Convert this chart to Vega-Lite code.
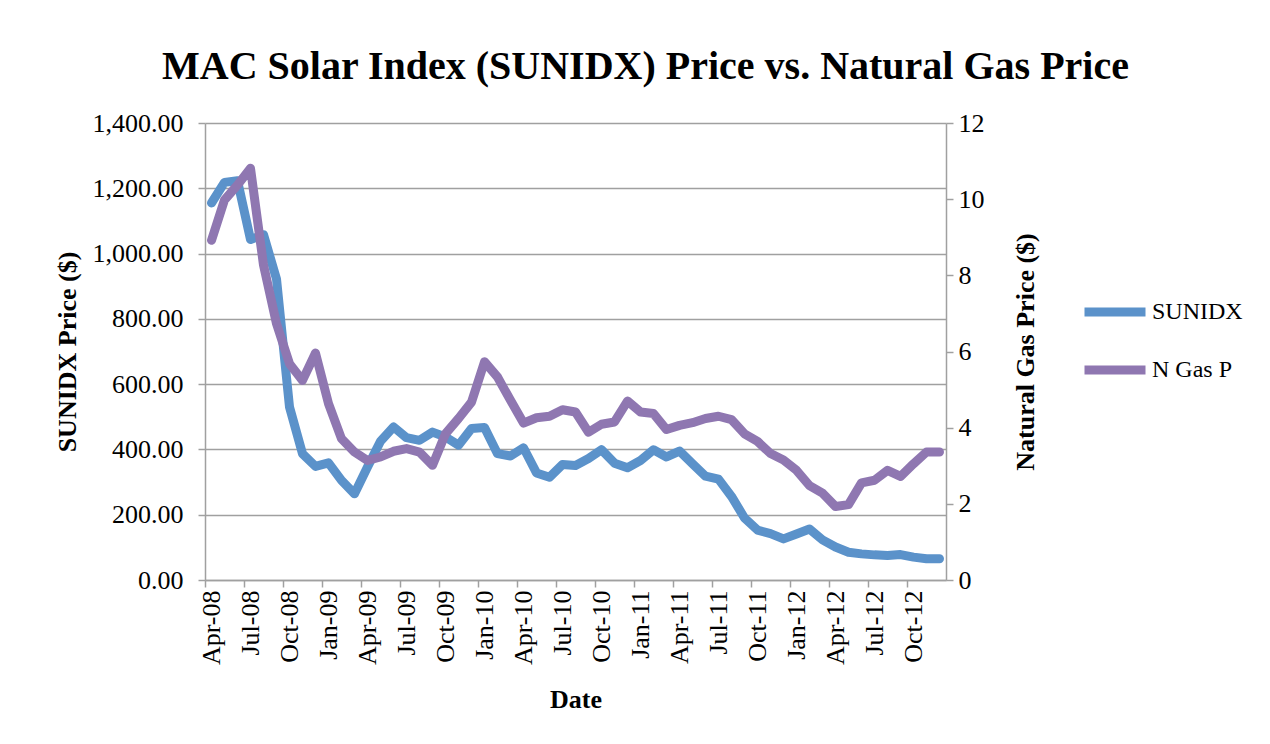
{
  "$schema": "https://vega.github.io/schema/vega-lite/v6.json",
  "width": 741,
  "height": 457,
  "autosize": {"type": "none"},
  "padding": {"left": 205, "top": 123, "right": 324, "bottom": 164},
  "background": "white",
  "title": {
    "text": "MAC Solar Index (SUNIDX) Price vs. Natural Gas Price",
    "font": "Liberation Serif",
    "fontSize": 40,
    "fontWeight": "bold",
    "color": "black",
    "anchor": "middle",
    "frame": "group",
    "dx": 70,
    "dy": 52,
    "offset": 43,
    "baseline": "alphabetic"
  },
  "config": {
    "view": {"stroke": null},
    "axis": {
      "labelFont": "Liberation Serif",
      "labelFontSize": 26,
      "labelColor": "black",
      "titleFont": "Liberation Serif",
      "titleFontSize": 26,
      "titleFontWeight": "bold",
      "titleColor": "black",
      "domainColor": "#a0a0a0",
      "domainWidth": 1.5,
      "tickColor": "#a0a0a0",
      "tickWidth": 1.5,
      "gridColor": "#a0a0a0",
      "gridWidth": 1.5
    }
  },
  "data": {
    "values": [
      {"date": "Apr-08", "sunidx": 1155, "gas": 8.92},
      {"date": "May-08", "sunidx": 1218, "gas": 9.98},
      {"date": "Jun-08", "sunidx": 1223, "gas": 10.37},
      {"date": "Jul-08", "sunidx": 1043, "gas": 10.81},
      {"date": "Aug-08", "sunidx": 1058, "gas": 8.27},
      {"date": "Sep-08", "sunidx": 922, "gas": 6.73},
      {"date": "Oct-08", "sunidx": 530, "gas": 5.68},
      {"date": "Nov-08", "sunidx": 387, "gas": 5.24},
      {"date": "Dec-08", "sunidx": 348, "gas": 5.96},
      {"date": "Jan-09", "sunidx": 359, "gas": 4.63},
      {"date": "Feb-09", "sunidx": 305, "gas": 3.71},
      {"date": "Mar-09", "sunidx": 264, "gas": 3.36},
      {"date": "Apr-09", "sunidx": 346, "gas": 3.14},
      {"date": "May-09", "sunidx": 425, "gas": 3.23},
      {"date": "Jun-09", "sunidx": 469, "gas": 3.38},
      {"date": "Jul-09", "sunidx": 436, "gas": 3.45},
      {"date": "Aug-09", "sunidx": 428, "gas": 3.36},
      {"date": "Sep-09", "sunidx": 453, "gas": 3.01},
      {"date": "Oct-09", "sunidx": 438, "gas": 3.84},
      {"date": "Nov-09", "sunidx": 413, "gas": 4.24},
      {"date": "Dec-09", "sunidx": 464, "gas": 4.67},
      {"date": "Jan-10", "sunidx": 467, "gas": 5.73},
      {"date": "Feb-10", "sunidx": 387, "gas": 5.33},
      {"date": "Mar-10", "sunidx": 380, "gas": 4.72},
      {"date": "Apr-10", "sunidx": 405, "gas": 4.12},
      {"date": "May-10", "sunidx": 328, "gas": 4.26},
      {"date": "Jun-10", "sunidx": 315, "gas": 4.30},
      {"date": "Jul-10", "sunidx": 354, "gas": 4.47},
      {"date": "Aug-10", "sunidx": 351, "gas": 4.41},
      {"date": "Sep-10", "sunidx": 372, "gas": 3.88},
      {"date": "Oct-10", "sunidx": 399, "gas": 4.09},
      {"date": "Nov-10", "sunidx": 358, "gas": 4.15},
      {"date": "Dec-10", "sunidx": 344, "gas": 4.70},
      {"date": "Jan-11", "sunidx": 366, "gas": 4.41},
      {"date": "Feb-11", "sunidx": 399, "gas": 4.37},
      {"date": "Mar-11", "sunidx": 377, "gas": 3.95},
      {"date": "Apr-11", "sunidx": 395, "gas": 4.06},
      {"date": "May-11", "sunidx": 356, "gas": 4.13},
      {"date": "Jun-11", "sunidx": 318, "gas": 4.24},
      {"date": "Jul-11", "sunidx": 309, "gas": 4.30},
      {"date": "Aug-11", "sunidx": 256, "gas": 4.21},
      {"date": "Sep-11", "sunidx": 190, "gas": 3.84},
      {"date": "Oct-11", "sunidx": 153, "gas": 3.64},
      {"date": "Nov-11", "sunidx": 142, "gas": 3.32},
      {"date": "Dec-11", "sunidx": 126, "gas": 3.15},
      {"date": "Jan-12", "sunidx": 141, "gas": 2.88},
      {"date": "Feb-12", "sunidx": 156, "gas": 2.48},
      {"date": "Mar-12", "sunidx": 123, "gas": 2.28},
      {"date": "Apr-12", "sunidx": 101, "gas": 1.93},
      {"date": "May-12", "sunidx": 85, "gas": 1.98},
      {"date": "Jun-12", "sunidx": 80, "gas": 2.55},
      {"date": "Jul-12", "sunidx": 77, "gas": 2.62},
      {"date": "Aug-12", "sunidx": 75, "gas": 2.88},
      {"date": "Sep-12", "sunidx": 78, "gas": 2.72},
      {"date": "Oct-12", "sunidx": 70, "gas": 3.05},
      {"date": "Nov-12", "sunidx": 65, "gas": 3.36},
      {"date": "Dec-12", "sunidx": 65, "gas": 3.36}
    ]
  },
  "encoding": {
    "x": {
      "field": "date",
      "type": "ordinal",
      "sort": null,
      "scale": {"type": "point", "padding": 0.5},
      "axis": {
        "title": "Date",
        "values": ["Apr-08", "Jul-08", "Oct-08", "Jan-09", "Apr-09", "Jul-09", "Oct-09", "Jan-10", "Apr-10", "Jul-10", "Oct-10", "Jan-11", "Apr-11", "Jul-11", "Oct-11", "Jan-12", "Apr-12", "Jul-12", "Oct-12"],
        "labelAngle": 270,
        "tickOffset": -6.5,
        "labelOffset": 6.5,
        "tickSize": 7,
        "labelPadding": 3,
        "titlePadding": 22,
        "grid": false
      }
    }
  },
  "layer": [
    {
      "mark": {"type": "line", "strokeWidth": 9, "strokeCap": "round", "strokeJoin": "round"},
      "encoding": {
        "y": {
          "field": "sunidx",
          "type": "quantitative",
          "scale": {"domain": [0, 1400]},
          "axis": {
            "title": "SUNIDX Price ($)",
            "values": [0, 200, 400, 600, 800, 1000, 1200, 1400],
            "format": ",.2f",
            "grid": true,
            "tickSize": 7,
            "labelPadding": 15,
            "titlePadding": 12
          }
        },
        "color": {
          "datum": "SUNIDX",
          "scale": {"domain": ["SUNIDX", "N Gas P"], "range": ["#5B92CA", "#8F77B1"]},
          "legend": {
            "title": null,
            "orient": "none",
            "legendX": 875,
            "legendY": 154,
            "padding": 0,
            "labelFont": "Liberation Serif",
            "labelFontSize": 24,
            "labelColor": "black",
            "symbolType": "stroke",
            "symbolSize": 3721,
            "symbolStrokeWidth": 9,
            "labelOffset": 2,
            "rowPadding": 5
          }
        }
      }
    },
    {
      "mark": {"type": "line", "strokeWidth": 9, "strokeCap": "round", "strokeJoin": "round"},
      "encoding": {
        "y": {
          "field": "gas",
          "type": "quantitative",
          "scale": {"domain": [0, 12]},
          "axis": {
            "orient": "right",
            "title": "Natural Gas Price ($)",
            "titleAngle": 270,
            "values": [0, 2, 4, 6, 8, 10, 12],
            "format": "d",
            "grid": false,
            "tickSize": 7,
            "labelPadding": 5,
            "titlePadding": 54
          }
        },
        "color": {"datum": "N Gas P"}
      }
    }
  ],
  "resolve": {"scale": {"y": "independent"}}
}
